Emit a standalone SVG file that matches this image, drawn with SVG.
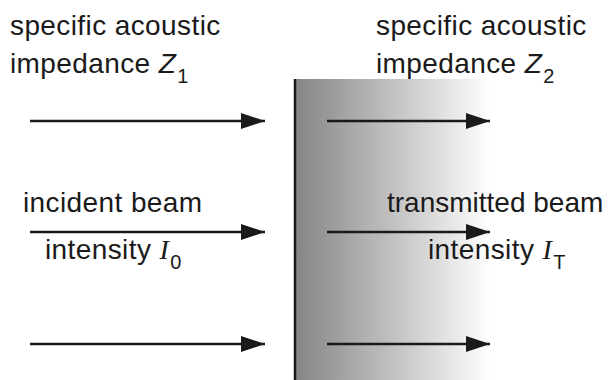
<svg xmlns="http://www.w3.org/2000/svg" width="613" height="380" viewBox="0 0 613 380">
<defs>
<linearGradient id="g" x1="0" y1="0" x2="1" y2="0">
<stop offset="0" stop-color="#858585"/>
<stop offset="1" stop-color="#ffffff"/>
</linearGradient>
<marker id="ah" markerUnits="userSpaceOnUse" markerWidth="24" markerHeight="18" refX="24" refY="8" orient="auto">
<path d="M0,0 L24,8 L0,16 Z" fill="#1a1a1a"/>
</marker>
<style>
text{font-family:"Liberation Sans",Arial,sans-serif;font-size:28px;fill:#1a1a1a;letter-spacing:0.4px}
.ns{letter-spacing:0}
.it{font-style:italic}
.its{font-family:"Liberation Serif","Times New Roman",serif;font-style:italic;font-size:28px}
.sub{font-size:20px}
.arr{stroke:#1a1a1a;stroke-width:2.5;fill:none;marker-end:url(#ah)}
</style>
</defs>
<rect width="613" height="380" fill="#fff"/>
<g id="medium2">
<rect x="296" y="79" width="195" height="301" fill="url(#g)"/>
<line x1="295" y1="79" x2="295" y2="380" stroke="#1a1a1a" stroke-width="2.5"/>
</g>
<g id="label-z1">
<text x="10" y="35">specific acoustic</text>
<text x="10" y="73">impedance <tspan class="it">Z</tspan><tspan class="sub" dx="1" dy="10">1</tspan></text>
</g>
<g id="label-z2">
<text x="376" y="35">specific acoustic</text>
<text x="376" y="73">impedance <tspan class="it">Z</tspan><tspan class="sub" dx="1" dy="10">2</tspan></text>
</g>
<g id="label-incident">
<text x="23" y="212">incident beam</text>
<text x="45" y="259">intensity <tspan class="its">I</tspan><tspan class="sub" dx="1" dy="10">0</tspan></text>
</g>
<g id="label-transmitted">
<text class="ns" x="387" y="212">transmitted beam</text>
<text x="428" y="259">intensity <tspan class="its">I</tspan><tspan class="sub" dx="1" dy="10">T</tspan></text>
</g>
<g id="connectors">
<line class="arr" x1="30" y1="121" x2="265" y2="121"/>
<line class="arr" x1="30" y1="232" x2="265" y2="232"/>
<line class="arr" x1="30" y1="344" x2="265" y2="344"/>
<line class="arr" x1="327" y1="121" x2="490" y2="121"/>
<line class="arr" x1="327" y1="232" x2="490" y2="232"/>
<line class="arr" x1="327" y1="344" x2="490" y2="344"/>
</g>
</svg>
